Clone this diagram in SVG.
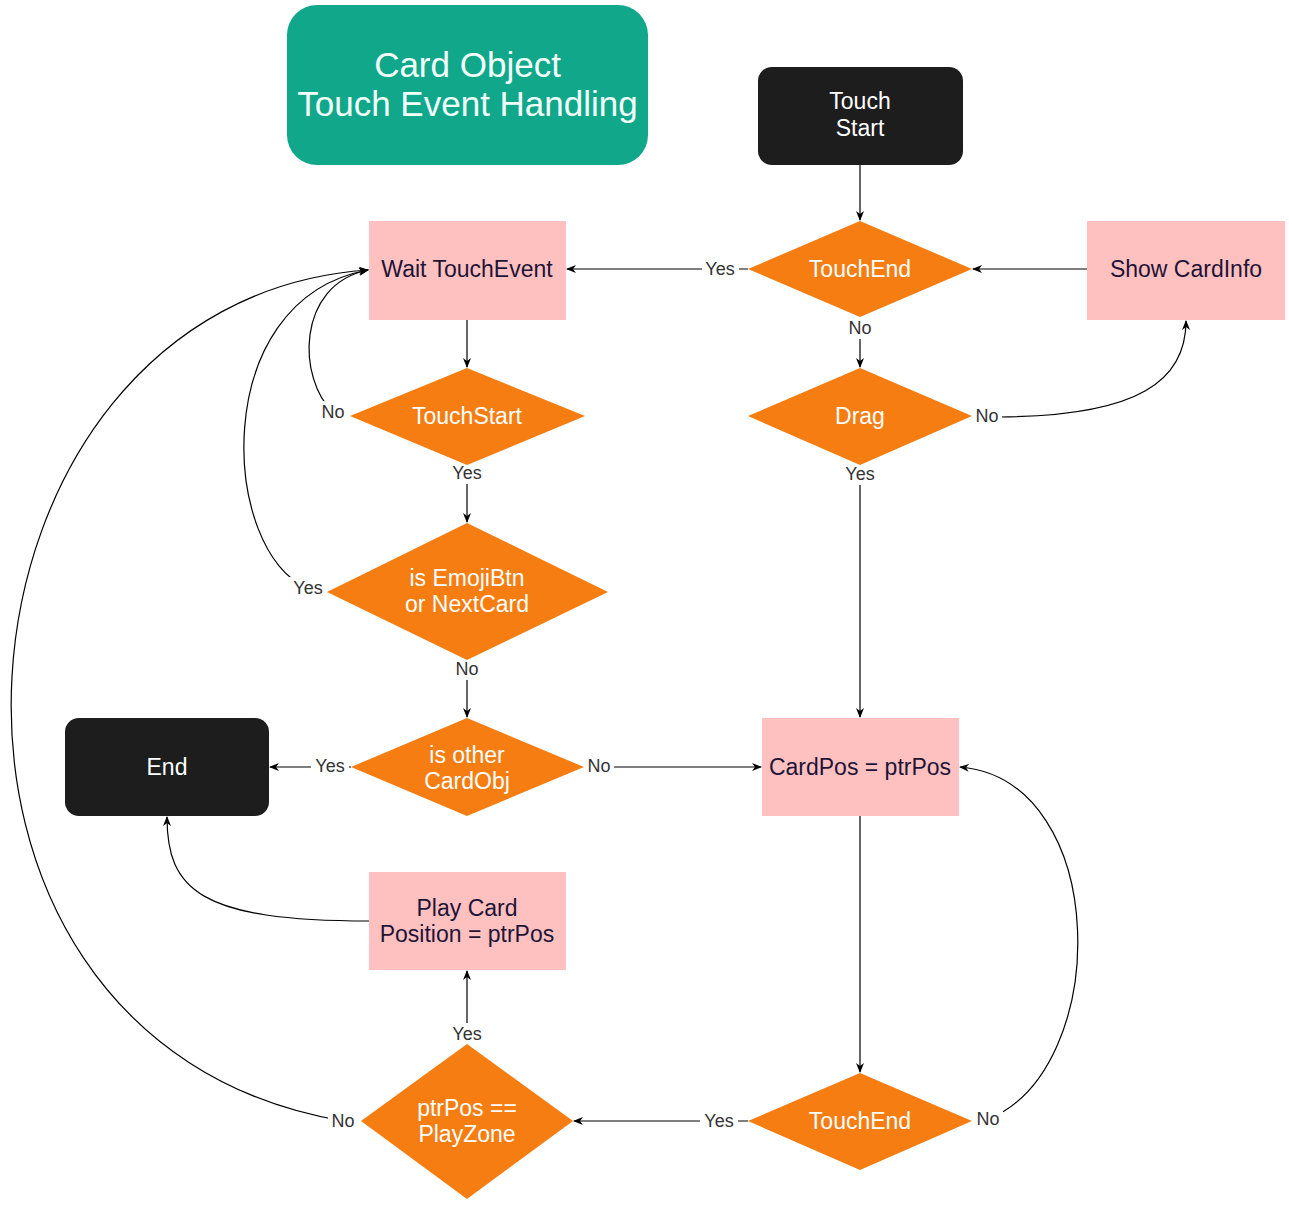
<svg xmlns="http://www.w3.org/2000/svg" width="1289" height="1209" viewBox="0 0 1289 1209">
<style>
.t{font-family:"Liberation Sans",Arial,sans-serif;text-anchor:middle;dominant-baseline:central}
.dia{fill:#F57D12}
.dt{fill:#FFFFFF;font-size:23px}
.box{fill:#FFC0C0}
.bt{fill:#1E1436;font-size:23px}
.term{fill:#1D1D1D}
.tt{fill:#FFFFFF;font-size:23px}
.e{fill:none;stroke:#000;stroke-width:1.2;marker-end:url(#a)}
.lb{fill:#fff}
.lt{fill:#333;font-size:18px}
</style>
<defs>
<marker id="a" viewBox="0 0 10 10" refX="9" refY="5" markerWidth="10" markerHeight="10" markerUnits="userSpaceOnUse" orient="auto">
<path d="M0,1 L10,5 L0,9 L3,5 Z" fill="#000"/>
</marker>
</defs>
<rect width="1289" height="1209" fill="#fff"/>
<g id="connectors">
<path class="e" d="M860,165 L860,220"/>
<path class="e" d="M748,269 L567,269"/>
<path class="e" d="M860,317 L860,367"/>
<path class="e" d="M1087,269 L973,269"/>
<path class="e" d="M972,416 L1000,417 C1140,416 1186,380 1186,321"/>
<path class="e" d="M860,465 L860,717"/>
<path class="e" d="M467,320 L467,367"/>
<path class="e" d="M333,412 C298,380 295,285 368,270"/>
<path class="e" d="M308,588 C222,555 205,300 368,270"/>
<path class="e" d="M467,465 L467,522"/>
<path class="e" d="M467,660 L467,717"/>
<path class="e" d="M351,767 L270,767"/>
<path class="e" d="M584,767 L761,767"/>
<path class="e" d="M860,816 L860,1072"/>
<path class="e" d="M988,1119 C1112,1070 1112,780 960,767"/>
<path class="e" d="M343,1121 C-135,1040 -70,300 368,270"/>
<path class="e" d="M748,1121 L574,1121"/>
<path class="e" d="M467,1044 L467,971"/>
<path class="e" d="M369,921 C200,921 167,890 167,817"/>
<g>
<rect class="lb" x="702" y="258" width="37" height="22"/><text class="t lt" x="720" y="269">Yes</text>
<rect class="lb" x="845" y="317" width="30" height="22"/><text class="t lt" x="860" y="328">No</text>
<rect class="lb" x="972" y="405" width="30" height="22"/><text class="t lt" x="987" y="416">No</text>
<rect class="lb" x="841" y="463" width="38" height="22"/><text class="t lt" x="860" y="474">Yes</text>
<rect class="lb" x="318" y="401" width="30" height="22"/><text class="t lt" x="333" y="412">No</text>
<rect class="lb" x="448" y="462" width="38" height="22"/><text class="t lt" x="467" y="473">Yes</text>
<rect class="lb" x="289" y="577" width="38" height="22"/><text class="t lt" x="308" y="588">Yes</text>
<rect class="lb" x="452" y="658" width="30" height="22"/><text class="t lt" x="467" y="669">No</text>
<rect class="lb" x="311" y="755" width="38" height="22"/><text class="t lt" x="330" y="766">Yes</text>
<rect class="lb" x="584" y="755" width="30" height="22"/><text class="t lt" x="599" y="766">No</text>
<rect class="lb" x="973" y="1108" width="30" height="22"/><text class="t lt" x="988" y="1119">No</text>
<rect class="lb" x="700" y="1110" width="38" height="22"/><text class="t lt" x="719" y="1121">Yes</text>
<rect class="lb" x="448" y="1023" width="38" height="22"/><text class="t lt" x="467" y="1034">Yes</text>
<rect class="lb" x="328" y="1110" width="30" height="22"/><text class="t lt" x="343" y="1121">No</text>
</g>
</g>
<g id="title">
<rect x="287" y="5" width="361" height="160" rx="30" fill="#10A78A"/>
<text class="t" x="467.5" y="64" font-size="35" fill="#F2FFFB">Card Object</text>
<text class="t" x="467.5" y="103" font-size="35" fill="#F2FFFB">Touch Event Handling</text>
</g>
<g id="touch-start">
<rect class="term" x="758" y="67" width="205" height="98" rx="14"/>
<text class="t tt" x="860" y="101">Touch</text>
<text class="t tt" x="860" y="128">Start</text>
</g>
<g id="touchend-top">
<polygon class="dia" points="860,221 972,269 860,317 748,269"/>
<text class="t dt" x="860" y="269">TouchEnd</text>
</g>
<g id="show-cardinfo">
<rect class="box" x="1087" y="221" width="198" height="99"/>
<text class="t bt" x="1186" y="269">Show CardInfo</text>
</g>
<g id="wait-touchevent">
<rect class="box" x="369" y="221" width="197" height="99"/>
<text class="t bt" x="467" y="269">Wait TouchEvent</text>
</g>
<g id="touchstart">
<polygon class="dia" points="467,368 585,416 467,465 350,416"/>
<text class="t dt" x="467" y="416">TouchStart</text>
</g>
<g id="drag">
<polygon class="dia" points="860,368 972,416 860,465 748,416"/>
<text class="t dt" x="860" y="416">Drag</text>
</g>
<g id="is-emojibtn">
<polygon class="dia" points="467,523 608,592 467,660 327,592"/>
<text class="t dt" x="467" y="578">is EmojiBtn</text>
<text class="t dt" x="467" y="604">or NextCard</text>
</g>
<g id="is-other-cardobj">
<polygon class="dia" points="467,718 584,767 467,816 351,767"/>
<text class="t dt" x="467" y="755">is other</text>
<text class="t dt" x="467" y="781">CardObj</text>
</g>
<g id="end">
<rect class="term" x="65" y="718" width="204" height="98" rx="14"/>
<text class="t tt" x="167" y="767">End</text>
</g>
<g id="cardpos">
<rect class="box" x="762" y="718" width="197" height="98"/>
<text class="t bt" x="860" y="767">CardPos = ptrPos</text>
</g>
<g id="play-card">
<rect class="box" x="369" y="872" width="197" height="98"/>
<text class="t bt" x="467" y="908">Play Card</text>
<text class="t bt" x="467" y="934">Position = ptrPos</text>
</g>
<g id="touchend-bottom">
<polygon class="dia" points="860,1073 972,1121 860,1170 748,1121"/>
<text class="t dt" x="860" y="1121">TouchEnd</text>
</g>
<g id="ptrpos-playzone">
<polygon class="dia" points="467,1044 573,1121 467,1199 361,1121"/>
<text class="t dt" x="467" y="1108">ptrPos ==</text>
<text class="t dt" x="467" y="1134">PlayZone</text>
</g>
</svg>
